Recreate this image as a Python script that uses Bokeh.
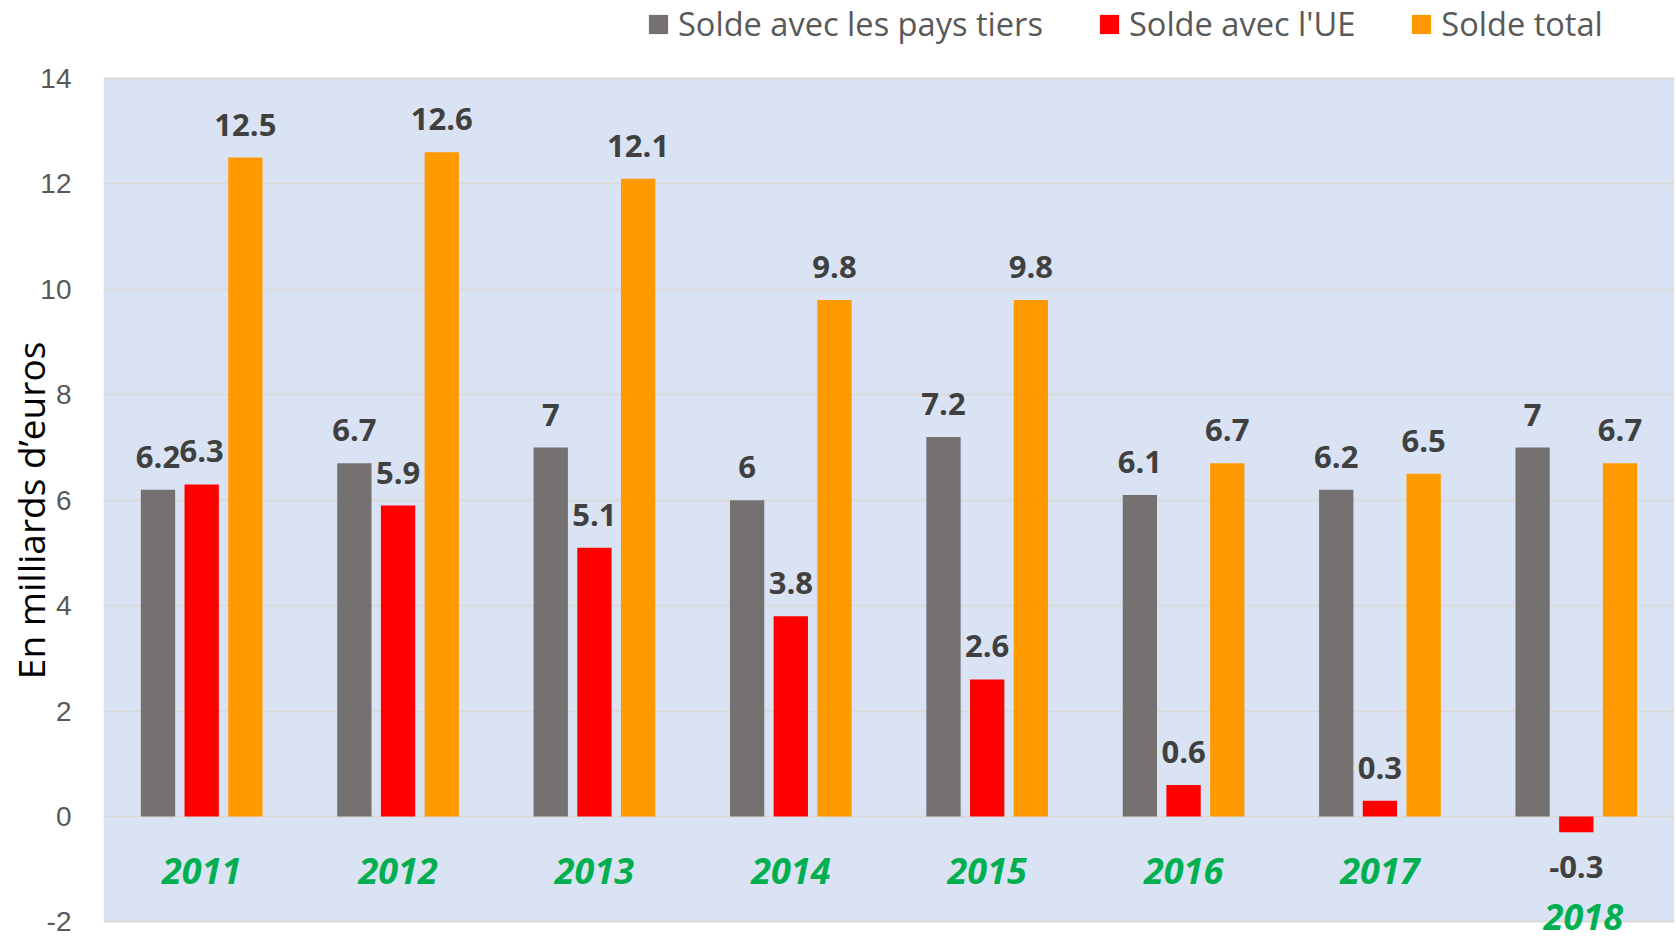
from bokeh.plotting import figure
from bokeh.models import (ColumnDataSource, FactorRange, FixedTicker, LabelSet,
                          Legend, LegendItem, BoxAnnotation)
from bokeh.transform import dodge
from bokeh.core.properties import value
from bokeh.embed import file_html
from bokeh.resources import INLINE

# ---- data ----
years = ["2011", "2012", "2013", "2014", "2015", "2016", "2017", "2018"]
solde_tiers = [6.2, 6.7, 7.0, 6.0, 7.2, 6.1, 6.2, 7.0]
solde_ue = [6.3, 5.9, 5.1, 3.8, 2.6, 0.6, 0.3, -0.3]
solde_total = [12.5, 12.6, 12.1, 9.8, 9.8, 6.7, 6.5, 6.7]
series_names = ["Solde avec les pays tiers", "Solde avec l'UE", "Solde total"]
y_ticks = [-2, 0, 2, 4, 6, 8, 10, 12, 14]
y_title = "En milliards d\u2019euros"

colors = ["#767171", "#FF0000", "#FF9900"]
offsets = [-0.2225, 0.0, 0.2225]
bar_w = 0.1747

# frame spans the whole canvas height; extra room above 14 holds the legend,
# extra room below -2 holds the pushed-down category label
p = figure(x_range=FactorRange(*years),
           y_range=(y_ticks[0] - 0.408, y_ticks[-1] + 1.479),
           width=1676, height=943, output_backend="svg", toolbar_location=None,
           min_border_left=103, min_border_right=2, min_border_top=0,
           min_border_bottom=0)
p.background_fill_color = "white"
p.border_fill_color = "white"
p.outline_line_color = None
p.xgrid.grid_line_color = None
p.ygrid.grid_line_color = None
p.xaxis.visible = False

# plot area background (from -2 to 14) and gridlines
p.add_layout(BoxAnnotation(bottom=y_ticks[0], top=y_ticks[-1], fill_color="#DAE3F3",
                           fill_alpha=1, line_color=None, level="underlay"))
p.hspan(y=y_ticks, line_color="#D9D9D9", line_width=2)

ya = p.yaxis[0]
ya.ticker = FixedTicker(ticks=y_ticks)
ya.major_label_overrides = {t: str(t) for t in y_ticks}
ya.axis_line_color = None
ya.major_tick_line_color = None
ya.minor_tick_line_color = None
ya.major_tick_out = 0
ya.major_tick_in = 0
ya.major_label_standoff = 32
ya.major_label_text_font = "Liberation Sans"
ya.major_label_text_font_size = "28px"
ya.major_label_text_color = "#595959"
# trailing no-break spaces centre the visible title on the -2..14 plot area
ya.axis_label = y_title + "\u00a0" * 8
ya.axis_label_text_font = "Open Sans"
ya.axis_label_text_font_style = "normal"
ya.axis_label_text_font_size = "37px"
ya.axis_label_text_color = "black"
ya.axis_label_standoff = -19

series = [solde_tiers, solde_ue, solde_total]
renderers = []
for vals, col, off in zip(series, colors, offsets):
    src = ColumnDataSource(dict(
        x=years, top=vals,
        txt=[("%g" % v) for v in vals],
        yoff=[33 if v >= 0 else -35 for v in vals],
    ))
    r = p.vbar(x=dodge("x", off, range=p.x_range), top="top", width=bar_w,
               source=src, fill_color=col, line_color=None)
    renderers.append(r)
    p.add_layout(LabelSet(x=dodge("x", off, range=p.x_range), y="top", text="txt",
                          y_offset="yoff", source=src, text_align="center",
                          text_baseline="middle", text_font=value("Open Sans"),
                          text_font_style="bold", text_font_size="31px",
                          text_color="#404040"))

# year labels (pushed down when a bar of the group is negative)
year_y = [-1.03 if min(a, b, c) >= 0 else -1.9
          for a, b, c in zip(solde_tiers, solde_ue, solde_total)]
year_dx = [0 if min(a, b, c) >= 0 else 7
           for a, b, c in zip(solde_tiers, solde_ue, solde_total)]
ysrc = ColumnDataSource(dict(x=years, y=year_y, dx=year_dx, txt=years))
p.add_layout(LabelSet(x="x", y="y", text="txt", x_offset="dx", source=ysrc,
                      text_align="center", text_baseline="middle",
                      text_font=value("Open Sans"),
                      text_font_style="bold italic", text_font_size="36px",
                      text_color="#00B050"))

legend = Legend(items=[LegendItem(label=n, renderers=[r])
                       for n, r in zip(series_names, renderers)],
                orientation="horizontal", location=(543, 897),
                glyph_width=24, glyph_height=24, label_standoff=8, spacing=54,
                padding=0, margin=0, border_line_color=None,
                background_fill_alpha=0, label_text_font="Open Sans",
                label_text_font_size="32.6px", label_text_color="#595959")
p.add_layout(legend)

open("out.html", "w").write(file_html(p, INLINE))
